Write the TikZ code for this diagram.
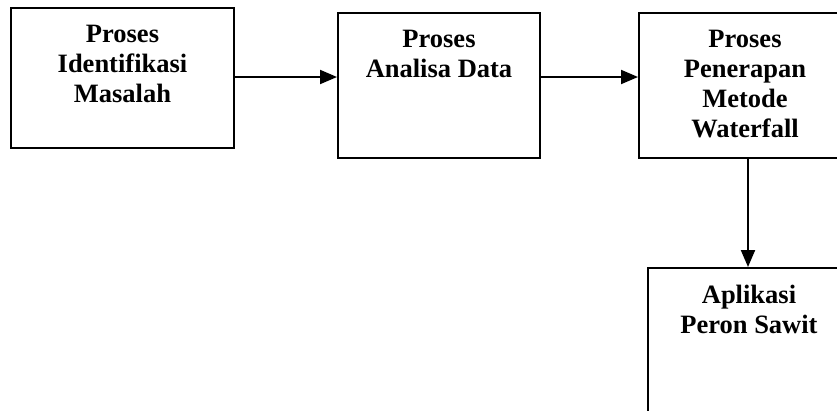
\documentclass[tikz,border=0pt]{standalone}
\usepackage{fontspec}
\setmainfont{Liberation Serif}
\usetikzlibrary{arrows.meta,positioning}

\tikzset{
	kotak/.style={draw, line width=2pt, anchor=north west, inner sep=0pt},
	judul/.style={font=\bfseries\fontsize{26.5}{30}\selectfont, align=center, inner sep=0pt},
	panah/.style={line width=2pt, -{Triangle[length=17pt,width=14pt]}}
}

\begin{document}
\begin{tikzpicture}[x=1pt, y=-1pt]
	\useasboundingbox (0,0) rectangle (837,410);
	\clip (0,0) rectangle (837,410);
	% kotak-kotak proses
	\node [kotak, minimum width=223pt, minimum height=140pt] (identifikasi) at (10,7) {};
	\node [kotak, minimum width=202pt, minimum height=145pt] (analisa) at (337,12) {};
	\node [kotak, minimum width=212pt, minimum height=145pt] (penerapan) at (638,12) {};
	\node [kotak, minimum width=202pt, minimum height=145pt] (aplikasi) at (647,267) {};
	% teks di dalam kotak
	\node [judul, below=18pt of identifikasi.north] (tIdentifikasi) {Proses\\Identifikasi\\Masalah};
	\node [judul, below=18pt of analisa.north] (tAnalisa) {Proses\\Analisa Data};
	\node [judul, below=18pt of penerapan.north] (tPenerapan) {Proses\\Penerapan\\Metode\\Waterfall};
	\node [judul, below=18pt of aplikasi.north] (tAplikasi) {Aplikasi\\Peron Sawit};
	% panah antar proses
	\draw [panah] ([yshift=1pt]identifikasi.east) -- ([yshift=1pt]identifikasi.east -| analisa.west);
	\draw [panah] ([yshift=1pt]identifikasi.east -| analisa.east) -- ([yshift=1pt]identifikasi.east -| penerapan.west);
	\draw [panah] ([xshift=3pt]penerapan.south) -- ([xshift=3pt]penerapan.south |- aplikasi.north);
\end{tikzpicture}
\end{document}
